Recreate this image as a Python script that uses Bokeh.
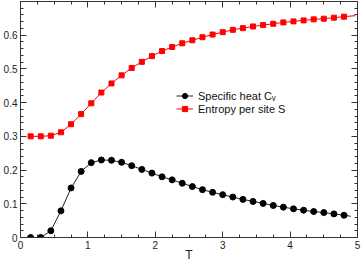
from bokeh.plotting import figure
from bokeh.models import Range1d, LinearAxis, FixedTicker, Legend, LegendItem
from bokeh.embed import file_html
from bokeh.resources import INLINE

# ---- data ----
T = [0.15, 0.3, 0.45, 0.6, 0.75, 0.9, 1.05, 1.2, 1.35, 1.5, 1.65, 1.8, 1.95, 2.1, 2.25, 2.4,
     2.55, 2.7, 2.85, 3.0, 3.15, 3.3, 3.45, 3.6, 3.75, 3.9, 4.05, 4.2, 4.35, 4.5, 4.65, 4.8]
Cv = [0.0, 0.0, 0.02, 0.079, 0.147, 0.196, 0.222, 0.230, 0.229, 0.223, 0.213, 0.202, 0.191, 0.180, 0.171, 0.161,
      0.151, 0.142, 0.134, 0.127, 0.120, 0.113, 0.107, 0.101, 0.095, 0.090, 0.085, 0.081, 0.077, 0.074, 0.070, 0.066]
S = [0.300, 0.300, 0.302, 0.312, 0.336, 0.366, 0.398, 0.430, 0.457, 0.481, 0.503, 0.521, 0.538, 0.553, 0.565, 0.576,
     0.585, 0.594, 0.602, 0.609, 0.616, 0.621, 0.626, 0.630, 0.634, 0.638, 0.641, 0.644, 0.647, 0.649, 0.652, 0.655]
# curve tails beyond the last marker
Cv_tail_T = [4.8, 4.9]
Cv_tail = [0.066, 0.063]
S_tail_T = [4.8, 4.97]
S_tail = [0.655, 0.658]

x_ticks = [0, 1, 2, 3, 4, 5]
x_minor = [0.25, 0.5, 0.75, 1.25, 1.5, 1.75, 2.25, 2.5, 2.75, 3.25, 3.5, 3.75, 4.25, 4.5, 4.75]
y_ticks = [0, 0.1, 0.2, 0.3, 0.4, 0.5, 0.6]
y_minor = [0.02, 0.04, 0.06, 0.08, 0.12, 0.14, 0.16, 0.18, 0.22, 0.24, 0.26, 0.28, 0.32, 0.34, 0.36, 0.38,
           0.42, 0.44, 0.46, 0.48, 0.52, 0.54, 0.56, 0.58, 0.62, 0.64, 0.66, 0.68]

label_cv = "Specific heat C\u1d65"
label_s = "Entropy per site S"
x_label = "T"

FONT = "Liberation Sans"
AX = "#333333"

p = figure(width=361, height=264, output_backend="svg", toolbar_location=None,
           x_range=Range1d(0, 5), y_range=Range1d(0, 0.7),
           x_axis_location=None, y_axis_location=None,
           min_border_left=17, min_border_right=4, min_border_top=1, min_border_bottom=25)
p.outline_line_color = AX
p.outline_line_width = 1
p.background_fill_color = "white"
p.border_fill_color = "white"
p.grid.grid_line_color = None


def make_axis(ticks, minor, show_labels):
    ax = LinearAxis(ticker=FixedTicker(ticks=ticks, minor_ticks=minor))
    ax.axis_line_color = AX
    ax.major_tick_line_color = AX
    ax.minor_tick_line_color = AX
    ax.major_tick_in = 6
    ax.major_tick_out = 0
    ax.minor_tick_in = 3
    ax.minor_tick_out = 0
    ax.major_label_text_font = FONT
    ax.major_label_text_color = "#222222"
    if show_labels:
        ax.major_label_text_font_size = "10px"
        ax.major_label_standoff = 3
    else:
        ax.major_label_overrides = {t: "" for t in ticks}
        ax.major_label_text_font_size = "1px"
        ax.major_label_standoff = 0
    return ax


bx = make_axis(x_ticks, x_minor, True)
bx.axis_label = x_label
bx.axis_label_text_font = FONT
bx.axis_label_text_font_size = "12px"
bx.axis_label_text_font_style = "normal"
bx.axis_label_text_color = "#222222"
bx.axis_label_standoff = -4
tx = make_axis(x_ticks, x_minor, False)
ly = make_axis(y_ticks, y_minor, True)
ly.major_label_overrides = {0: "0"}
ry = make_axis(y_ticks, y_minor, False)
p.add_layout(bx, "below")
p.add_layout(tx, "above")
p.add_layout(ly, "left")
p.add_layout(ry, "right")

cv_line = p.line(T + Cv_tail_T[1:], Cv + Cv_tail[1:], line_color="#222222", line_width=1)
cv_pts = p.scatter(T, Cv, marker="circle", size=6, fill_color="black", line_color="black")
s_line = p.line(T + S_tail_T[1:], S + S_tail[1:], line_color="#ff0000", line_width=1)
s_pts = p.scatter(T, S, marker="square", size=5, fill_color="#ff0000", line_color="#ff0000")

legend = Legend(items=[LegendItem(label=label_cv, renderers=[cv_line, cv_pts]),
                       LegendItem(label=label_s, renderers=[s_line, s_pts])],
                location=(156, 122))
legend.border_line_color = None
legend.background_fill_alpha = 0
legend.padding = 0
legend.margin = 0
legend.spacing = 0
legend.glyph_width = 17
legend.glyph_height = 13
legend.label_height = 13
legend.label_standoff = 5
legend.label_text_font = FONT
legend.label_text_font_size = "11px"
legend.label_text_color = "#111111"
p.add_layout(legend)

open("out.html", "w").write(file_html(p, INLINE))
